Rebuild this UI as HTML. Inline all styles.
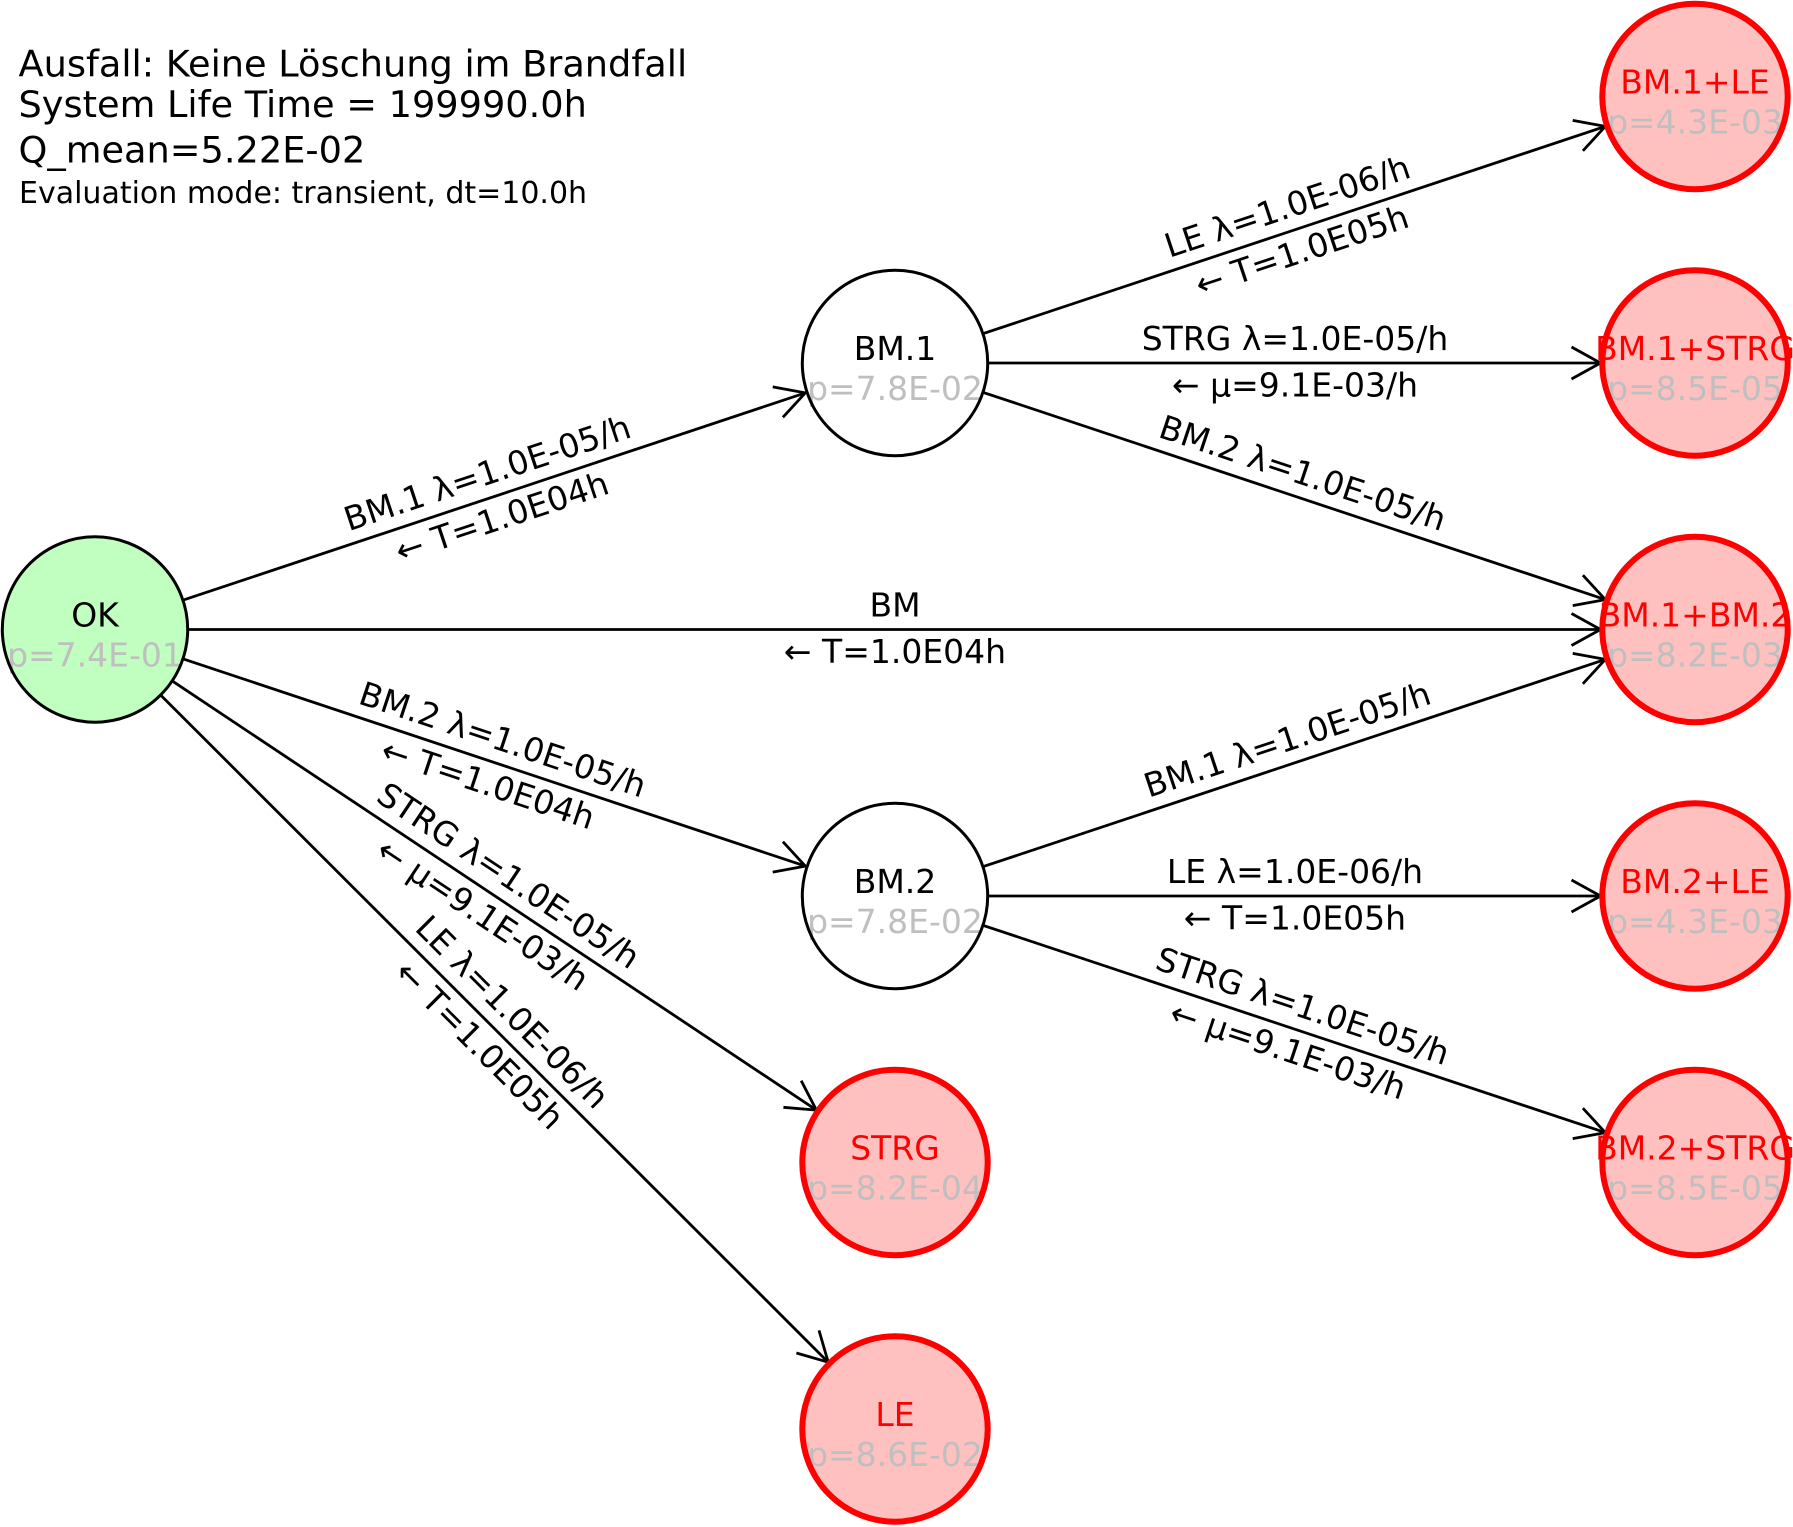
<!DOCTYPE html>
<html>
<head>
<meta charset="utf-8">
<style>
  html, body { margin: 0; padding: 0; background: #ffffff; }
  svg { display: block; }
  text { font-family: "DejaVu Sans", "Liberation Sans", sans-serif; }
</style>
</head>
<body>
<svg xmlns="http://www.w3.org/2000/svg" width="1793" height="1527" viewBox="0 0 1793 1527">
  <rect x="0" y="0" width="1793" height="1527" fill="#ffffff"/>

  <!-- Title block -->
  <g fill="#000000">
    <text x="18.5" y="76.5" font-size="36.7">Ausfall: Keine Löschung im Brandfall</text>
    <text x="18.5" y="117" font-size="36.7">System Life Time = 199990.0h</text>
    <text x="18.5" y="162.5" font-size="36.7">Q_mean=5.22E-02</text>
    <text x="19" y="203" font-size="30">Evaluation mode: transient, dt=10.0h</text>
  </g>

  <!-- Edges -->
  <g stroke="#000000" stroke-width="2.8" fill="none" stroke-linecap="butt" stroke-linejoin="round">
    <!-- OK -> BM.1 -->
    <line x1="183.2" y1="600.1" x2="805.3" y2="392.9"/>
    <polyline points="782.9,417.3 805.3,392.9 772.7,386.9"/>
    <!-- OK -> BM.1+BM.2 -->
    <line x1="188" y1="629.5" x2="1600.5" y2="629.5"/>
    <polyline points="1571.5,613.5 1600.5,629.5 1571.5,645.5"/>
    <!-- OK -> BM.2 -->
    <line x1="183.2" y1="658.9" x2="805.3" y2="866.1"/>
    <polyline points="772.7,872.1 805.3,866.1 782.9,841.7"/>
    <!-- OK -> STRG -->
    <line x1="172.4" y1="681.1" x2="816.4" y2="1110.1"/>
    <polyline points="783.4,1107.3 816.4,1110.1 801.2,1080.7"/>
    <!-- OK -> LE -->
    <line x1="160.8" y1="695.2" x2="828.2" y2="1362.2"/>
    <polyline points="796.4,1353.0 828.2,1362.2 819.0,1330.4"/>
    <!-- BM.1 -> BM.1+LE -->
    <line x1="983.2" y1="333.6" x2="1605.3" y2="126.4"/>
    <polyline points="1582.9,150.8 1605.3,126.4 1572.7,120.4"/>
    <!-- BM.1 -> BM.1+STRG -->
    <line x1="988" y1="363" x2="1600.5" y2="363"/>
    <polyline points="1571.5,347 1600.5,363 1571.5,379"/>
    <!-- BM.1 -> BM.1+BM.2 -->
    <line x1="983.2" y1="392.4" x2="1605.3" y2="599.6"/>
    <polyline points="1572.7,605.6 1605.3,599.6 1582.9,575.2"/>
    <!-- BM.2 -> BM.1+BM.2 -->
    <line x1="983.2" y1="866.6" x2="1605.3" y2="659.4"/>
    <polyline points="1582.9,683.8 1605.3,659.4 1572.7,653.4"/>
    <!-- BM.2 -> BM.2+LE -->
    <line x1="988" y1="896" x2="1600.5" y2="896"/>
    <polyline points="1571.5,880 1600.5,896 1571.5,912"/>
    <!-- BM.2 -> BM.2+STRG -->
    <line x1="983.2" y1="925.4" x2="1605.3" y2="1132.6"/>
    <polyline points="1572.7,1138.6 1605.3,1132.6 1582.9,1108.2"/>
  </g>

  <!-- Edge labels -->
  <g fill="#000000" font-size="33" text-anchor="middle">
    <g transform="translate(495 496.25) rotate(-18.42)">
      <text x="0" y="-13">BM.1 λ=1.0E-05/h</text>
      <text x="0" y="33.5">← T=1.0E04h</text>
    </g>
    <g transform="translate(895 629.5)">
      <text x="0" y="-13">BM</text>
      <text x="0" y="33.5">← T=1.0E04h</text>
    </g>
    <g transform="translate(495 762.75) rotate(18.42)">
      <text x="0" y="-13">BM.2 λ=1.0E-05/h</text>
      <text x="0" y="33.5">← T=1.0E04h</text>
    </g>
    <g transform="translate(495 896) rotate(33.67)">
      <text x="0" y="-13">STRG λ=1.0E-05/h</text>
      <text x="0" y="33.5">← μ=9.1E-03/h</text>
    </g>
    <g transform="translate(495 1029.25) rotate(44.98)">
      <text x="0" y="-13">LE λ=1.0E-06/h</text>
      <text x="0" y="33.5">← T=1.0E05h</text>
    </g>
    <g transform="translate(1295 229.75) rotate(-18.42)">
      <text x="0" y="-13">LE λ=1.0E-06/h</text>
      <text x="0" y="33.5">← T=1.0E05h</text>
    </g>
    <g transform="translate(1295 363)">
      <text x="0" y="-13">STRG λ=1.0E-05/h</text>
      <text x="0" y="33.5">← μ=9.1E-03/h</text>
    </g>
    <g transform="translate(1295 496.25) rotate(18.42)">
      <text x="0" y="-13">BM.2 λ=1.0E-05/h</text>
    </g>
    <g transform="translate(1295 762.75) rotate(-18.42)">
      <text x="0" y="-13">BM.1 λ=1.0E-05/h</text>
    </g>
    <g transform="translate(1295 896)">
      <text x="0" y="-13">LE λ=1.0E-06/h</text>
      <text x="0" y="33.5">← T=1.0E05h</text>
    </g>
    <g transform="translate(1295 1029.25) rotate(18.42)">
      <text x="0" y="-13">STRG λ=1.0E-05/h</text>
      <text x="0" y="33.5">← μ=9.1E-03/h</text>
    </g>
  </g>

  <!-- Node fills -->
  <g>
    <circle cx="95" cy="629.5" r="92.7" fill="#c0ffc0"/>
    <circle cx="895" cy="363" r="92.7" fill="#ffffff"/>
    <circle cx="895" cy="896" r="92.7" fill="#ffffff"/>
    <circle cx="895" cy="1162.5" r="92.7" fill="#ffc0c0"/>
    <circle cx="895" cy="1429" r="92.7" fill="#ffc0c0"/>
    <circle cx="1695" cy="96.5" r="92.7" fill="#ffc0c0"/>
    <circle cx="1695" cy="363" r="92.7" fill="#ffc0c0"/>
    <circle cx="1695" cy="629.5" r="92.7" fill="#ffc0c0"/>
    <circle cx="1695" cy="896" r="92.7" fill="#ffc0c0"/>
    <circle cx="1695" cy="1162.5" r="92.7" fill="#ffc0c0"/>
  </g>

  <!-- Node labels -->
  <g font-size="33" text-anchor="middle">
    <text x="95" y="626.5" fill="#000000">OK</text>
    <text x="95" y="666.5" fill="#bfbfbf">p=7.4E-01</text>

    <text x="895" y="360" fill="#000000">BM.1</text>
    <text x="895" y="400" fill="#bfbfbf">p=7.8E-02</text>

    <text x="895" y="893" fill="#000000">BM.2</text>
    <text x="895" y="933" fill="#bfbfbf">p=7.8E-02</text>

    <text x="895" y="1159.5" fill="#ff0000">STRG</text>
    <text x="895" y="1199.5" fill="#bfbfbf">p=8.2E-04</text>

    <text x="895" y="1426" fill="#ff0000">LE</text>
    <text x="895" y="1466" fill="#bfbfbf">p=8.6E-02</text>

    <text x="1695" y="93.5" fill="#ff0000">BM.1+LE</text>
    <text x="1695" y="133.5" fill="#bfbfbf">p=4.3E-03</text>

    <text x="1695" y="360" fill="#ff0000">BM.1+STRG</text>
    <text x="1695" y="400" fill="#bfbfbf">p=8.5E-05</text>

    <text x="1695" y="626.5" fill="#ff0000">BM.1+BM.2</text>
    <text x="1695" y="666.5" fill="#bfbfbf">p=8.2E-03</text>

    <text x="1695" y="893" fill="#ff0000">BM.2+LE</text>
    <text x="1695" y="933" fill="#bfbfbf">p=4.3E-03</text>

    <text x="1695" y="1159.5" fill="#ff0000">BM.2+STRG</text>
    <text x="1695" y="1199.5" fill="#bfbfbf">p=8.5E-05</text>
  </g>

  <!-- Node outlines -->
  <g fill="none">
    <circle cx="95" cy="629.5" r="92.7" stroke="#000000" stroke-width="3"/>
    <circle cx="895" cy="363" r="92.7" stroke="#000000" stroke-width="3"/>
    <circle cx="895" cy="896" r="92.7" stroke="#000000" stroke-width="3"/>
    <circle cx="895" cy="1162.5" r="92.7" stroke="#ff0000" stroke-width="6"/>
    <circle cx="895" cy="1429" r="92.7" stroke="#ff0000" stroke-width="6"/>
    <circle cx="1695" cy="96.5" r="92.7" stroke="#ff0000" stroke-width="6"/>
    <circle cx="1695" cy="363" r="92.7" stroke="#ff0000" stroke-width="6"/>
    <circle cx="1695" cy="629.5" r="92.7" stroke="#ff0000" stroke-width="6"/>
    <circle cx="1695" cy="896" r="92.7" stroke="#ff0000" stroke-width="6"/>
    <circle cx="1695" cy="1162.5" r="92.7" stroke="#ff0000" stroke-width="6"/>
  </g>
</svg>
</body>
</html>
